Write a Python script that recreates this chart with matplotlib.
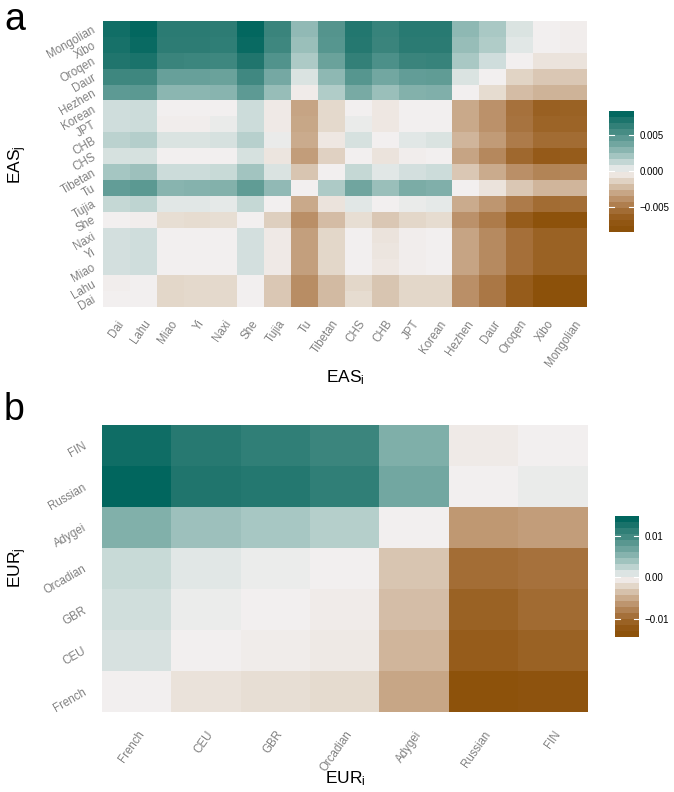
import numpy as np
import matplotlib
matplotlib.use('Agg')
import matplotlib.pyplot as plt
from matplotlib.colors import LinearSegmentedColormap, Normalize

plt.rcParams['font.family'] = ['Liberation Sans', 'DejaVu Sans']
plt.rcParams['mathtext.fontset'] = 'custom'
plt.rcParams['mathtext.rm'] = 'Liberation Sans'
plt.rcParams['mathtext.it'] = 'Liberation Sans'
plt.rcParams['mathtext.default'] = 'regular'

# ---------------- data (units of 1e-3) ----------------
eas_pops = ['Dai', 'Lahu', 'Miao', 'Yi', 'Naxi', 'She', 'Tujia', 'Tu', 'Tibetan',
            'CHS', 'CHB', 'JPT', 'Korean', 'Hezhen', 'Daur', 'Oroqen', 'Xibo', 'Mongolian']
# rows: EAS_j (bottom -> top, same order as eas_pops); columns: EAS_i
eas_dai       = [0.0, 0.0, -1.2, -1.1, -1.1, 0.0, -1.8, -4.2, -2.3, -1.0, -1.9, -1.2, -1.2, -4.1, -5.2, -6.8, -8.3, -8.4]
eas_lahu      = [-0.1, 0.0, -1.2, -1.1, -1.1, 0.0, -1.8, -4.2, -2.3, -1.2, -1.9, -1.2, -1.2, -4.1, -5.2, -6.8, -8.3, -8.3]
eas_miao      = [0.8, 0.9, 0.0, 0.0, 0.0, 0.8, -0.3, -3.4, -1.2, 0.0, -0.4, -0.1, 0.0, -3.2, -4.3, -5.6, -6.4, -6.4]
eas_yi        = [0.8, 0.9, 0.0, 0.0, 0.0, 0.8, -0.3, -3.4, -1.2, 0.0, -0.5, -0.1, 0.0, -3.2, -4.3, -5.6, -6.4, -6.4]
eas_naxi      = [0.8, 0.9, 0.0, 0.0, 0.0, 0.8, -0.3, -3.4, -1.2, 0.0, -0.6, -0.1, 0.0, -3.2, -4.3, -5.6, -6.4, -6.4]
eas_she       = [0.0, -0.1, -0.9, -1.0, -0.9, 0.0, -1.5, -4.1, -2.2, -0.9, -1.8, -1.2, -1.0, -4.0, -5.0, -6.8, -8.2, -8.1]
eas_tujia     = [1.2, 1.4, 0.4, 0.4, 0.3, 1.2, 0.0, -3.0, -0.6, 0.4, 0.0, 0.2, 0.3, -2.9, -3.8, -5.0, -5.8, -5.7]
eas_tu        = [4.5, 4.8, 3.1, 3.2, 3.3, 4.6, 2.8, 0.0, 1.9, 4.0, 2.5, 3.6, 3.4, 0.0, -0.6, -1.8, -2.5, -2.5]
eas_tibetan   = [2.1, 2.4, 1.0, 1.0, 1.1, 2.2, 0.6, -1.9, 0.0, 1.2, 0.4, 0.8, 1.0, -1.8, -2.9, -4.1, -4.6, -4.5]
eas_chs       = [0.7, 0.7, 0.0, 0.0, 0.0, 0.7, -0.5, -3.5, -1.4, 0.0, -0.6, -0.1, 0.0, -3.2, -4.4, -6.0, -6.9, -6.8]
eas_chb       = [1.5, 1.7, 0.6, 0.6, 0.7, 1.6, 0.2, -2.9, -0.4, 0.7, 0.0, 0.4, 0.6, -2.5, -3.6, -5.0, -5.8, -5.8]
eas_jpt       = [0.9, 1.0, -0.1, -0.1, 0.2, 1.0, -0.3, -3.1, -1.1, 0.2, -0.4, 0.0, 0.0, -3.0, -4.0, -5.4, -6.3, -6.3]
eas_korean    = [0.9, 1.0, 0.0, 0.0, 0.0, 1.0, -0.3, -3.2, -1.1, 0.0, -0.4, 0.0, 0.0, -3.0, -4.0, -5.5, -6.5, -6.4]
eas_hezhen    = [4.7, 4.8, 3.0, 3.0, 3.1, 4.7, 2.6, -0.2, 1.8, 3.7, 2.5, 3.3, 3.4, 0.0, -1.0, -2.2, -2.6, -2.6]
eas_daur      = [6.0, 6.0, 4.3, 4.3, 4.2, 5.9, 3.8, 0.6, 2.9, 5.0, 3.9, 4.5, 4.6, 0.6, 0.0, -1.3, -1.8, -1.8]
eas_oroqen    = [7.3, 7.5, 6.2, 6.1, 6.0, 7.3, 5.2, 1.9, 4.2, 6.5, 5.4, 6.2, 6.3, 2.0, 0.9, 0.0, -0.6, -0.6]
eas_xibo      = [7.6, 8.1, 6.8, 6.8, 6.7, 8.1, 6.0, 2.5, 5.0, 7.1, 6.2, 6.9, 6.9, 2.6, 1.8, 0.4, 0.0, -0.1]
eas_mongolian = [7.8, 8.3, 6.9, 6.9, 6.8, 8.3, 6.2, 2.8, 5.1, 7.2, 6.3, 7.0, 7.0, 2.9, 2.0, 0.6, 0.0, -0.1]

eur_pops = ['French', 'CEU', 'GBR', 'Orcadian', 'Adygei', 'Russian', 'FIN']
eur_french   = [0.0, -1.2, -1.5, -1.8, -5.5, -14.3, -13.9]
eur_ceu      = [1.2, 0.0, -0.3, -0.6, -4.4, -11.9, -11.2]
eur_gbr      = [1.5, 0.3, 0.0, -0.4, -3.8, -11.2, -10.2]
eur_orcadian = [1.9, 0.7, 0.3, 0.0, -3.3, -10.0, -9.6]
eur_adygei   = [5.9, 4.2, 3.6, 2.9, 0.0, -6.5, -6.1]
eur_russian  = [14.7, 12.8, 12.5, 11.6, 6.8, 0.0, 0.4]
eur_fin      = [13.8, 12.3, 11.6, 10.7, 6.0, -0.5, 0.0]

eas_ticks = [-0.005, 0.0, 0.005]
eas_tick_labels = ['\u22120.005', '0.000', '0.005']
eur_ticks = [-0.01, 0.0, 0.01]
eur_tick_labels = ['\u22120.01', '0.00', '0.01']

eas_mat = np.array([eas_dai, eas_lahu, eas_miao, eas_yi, eas_naxi, eas_she, eas_tujia,
                    eas_tu, eas_tibetan, eas_chs, eas_chb, eas_jpt, eas_korean, eas_hezhen,
                    eas_daur, eas_oroqen, eas_xibo, eas_mongolian]) * 1e-3
eur_mat = np.array([eur_french, eur_ceu, eur_gbr, eur_orcadian, eur_adygei,
                    eur_russian, eur_fin]) * 1e-3

# ---------------- diverging brown / teal palette ----------------
pal_pos = [-1.0, -0.83, -0.71, -0.6, -0.48, -0.36, -0.24, -0.12, -0.06, 0.0,
           0.06, 0.12, 0.24, 0.36, 0.48, 0.6, 0.71, 0.83, 1.0]
pal_col = ['#8C510A', '#955A18', '#A0692F', '#AD7B4A', '#BB9169', '#C9A98A', '#D7C2AD',
           '#E6DCD0', '#EDE6E0', '#F3F0F0', '#DEE5E4', '#CCDCDA', '#A9C8C4', '#8BB6B1',
           '#6FA59F', '#56968F', '#3F8880', '#2A7B73', '#01665E']
cmap = LinearSegmentedColormap.from_list(
    'brteal', list(zip([(p + 1) / 2 for p in pal_pos], pal_col)), N=512)

# ---------------- figure ----------------
W, H = 674, 792
fig = plt.figure(figsize=(W / 100, H / 100), dpi=100)


def fx(px):
    return px / W


def fy(py):
    return 1 - py / H


LABEL_GREY = '#808080'


def heat_panel(mat, pops, box, cbox, ticks, tick_labels, ypad, xpad):
    n = len(pops)
    lo, hi = mat.min(), mat.max()
    m = max(abs(lo), abs(hi))
    norm = Normalize(vmin=-m, vmax=m)
    x0, y0, x1, y1 = box
    ax = fig.add_axes([fx(x0), fy(y1), fx(x1) - fx(x0), fy(y0) - fy(y1)])
    ax.imshow(mat, cmap=cmap, norm=norm, origin='lower', aspect='auto',
              interpolation='nearest', extent=(-0.5, n - 0.5, -0.5, n - 0.5))
    ax.set_xlim(-0.5, n - 0.5)
    ax.set_ylim(-0.5, n - 0.5)
    for s in ax.spines.values():
        s.set_visible(False)
    ax.set_xticks(range(n))
    ax.set_yticks(range(n))
    ax.set_xticklabels(pops, rotation=55, ha='right', va='top', rotation_mode='anchor',
                       fontsize=8.3, color=LABEL_GREY)
    ax.set_yticklabels(pops, rotation=30, ha='right', va='center', rotation_mode='anchor',
                       fontsize=8.3, color=LABEL_GREY)
    ax.tick_params(axis='x', length=0, pad=xpad)
    ax.tick_params(axis='y', length=0, pad=ypad)

    # colour bar (binned, spanning data range)
    cx0, cy0, cx1, cy1 = cbox
    cax = fig.add_axes([fx(cx0), fy(cy1), fx(cx1) - fx(cx0), fy(cy0) - fy(cy1)])
    vals = np.linspace(lo, hi, 20)
    cax.imshow(vals[:, None], cmap=cmap, norm=norm, origin='lower', aspect='auto',
               interpolation='nearest', extent=(0, 1, lo, hi))
    cax.set_xlim(0, 1)
    cax.set_ylim(lo, hi)
    for s in cax.spines.values():
        s.set_visible(False)
    cax.set_xticks([])
    cax.yaxis.tick_right()
    cax.set_yticks(ticks)
    cax.set_yticklabels(tick_labels, fontsize=7, color='black')
    cax.tick_params(axis='y', length=0, pad=4)
    for t in ticks:
        cax.plot([0, 0.2], [t, t], color='white', lw=0.8)
        cax.plot([0.8, 1], [t, t], color='white', lw=0.8)
    return ax


heat_panel(eas_mat, eas_pops, (103, 21, 587, 307), (609, 111, 634, 232),
           eas_ticks, eas_tick_labels, ypad=6, xpad=8)
heat_panel(eur_mat, eur_pops, (102, 425, 588, 712), (615, 516, 639, 637),
           eur_ticks, eur_tick_labels, ypad=12, xpad=12)

fig.text(fx(345), fy(378), r'EAS$_{i}$', ha='center', va='center', fontsize=12.5)
fig.text(fx(18), fy(165), r'EAS$_{j}$', ha='center', va='center', fontsize=12.5, rotation=90)
fig.text(fx(345), fy(779), r'EUR$_{i}$', ha='center', va='center', fontsize=12.5)
fig.text(fx(18), fy(568), r'EUR$_{j}$', ha='center', va='center', fontsize=12.5, rotation=90)

fig.text(fx(4), fy(2), 'a', ha='left', va='top', fontsize=27)
fig.text(fx(4), fy(392), 'b', ha='left', va='top', fontsize=27)

fig.savefig('out.png', dpi=100, facecolor='white')
